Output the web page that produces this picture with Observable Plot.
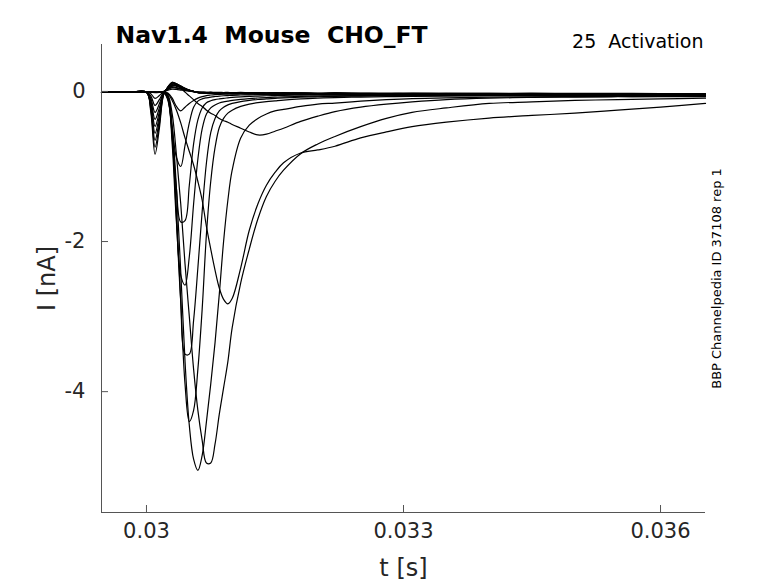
<!DOCTYPE html>
<html>
<head>
<meta charset="utf-8">
<script src="https://cdn.jsdelivr.net/npm/d3@7"></script>
<script src="https://cdn.jsdelivr.net/npm/@observablehq/plot@0.6"></script>
<style>
  body { margin: 0; background: #fff; }
  svg text { white-space: pre; }
</style>
</head>
<body>
<div id="chart"></div>
<script>
// shared time grid (s)
const time = [0.029475, 0.0298, 0.0300, 0.03005, 0.0301, 0.03015, 0.0302, 0.03025, 0.0303, 0.03035,
  0.0304, 0.03045, 0.0305, 0.03055, 0.0306, 0.03065, 0.0307, 0.03075, 0.0308, 0.03085,
  0.0309, 0.03095, 0.0310, 0.0311, 0.0312, 0.0313, 0.0314, 0.0315, 0.0316, 0.0318,
  0.0320, 0.0322, 0.0325, 0.0328, 0.0331, 0.0335, 0.0340, 0.0345, 0.0350, 0.0355,
  0.0360, 0.036525];

// current traces (nA)
const dip1 = [-0.01, -0.008, -0.01, -0.03, -0.093, -0.055, -0.005, 0.015, 0.03, 0.026, 0.018, 0.01, 0.004, -0.003,
  -0.008, -0.01, -0.012, -0.01, -0.014, -0.012, -0.015, -0.013, -0.016, -0.014, -0.017, -0.015, -0.018, -0.016,
  -0.02, -0.018, -0.021, -0.02, -0.023, -0.021, -0.025, -0.023, -0.026, -0.024, -0.027, -0.026, -0.028, -0.03];
const dip2 = [-0.012, -0.01, -0.01, -0.06, -0.186, -0.11, -0.01, 0.025, 0.05, 0.043, 0.03, 0.018, 0.008, -0.002,
  -0.01, -0.012, -0.015, -0.013, -0.016, -0.018, -0.015, -0.017, -0.019, -0.016, -0.02, -0.018, -0.021, -0.019,
  -0.016, -0.022, -0.027, -0.02, -0.025, -0.03, -0.024, -0.029, -0.026, -0.032, -0.028, -0.033, -0.031, -0.035];
const dip3 = [-0.01, -0.012, -0.008, -0.09, -0.279, -0.165, -0.015, 0.03, 0.06, 0.051, 0.036, 0.021, 0.009, -0.002,
  -0.012, -0.014, -0.013, -0.017, -0.015, -0.019, -0.017, -0.02, -0.018, -0.022, -0.02, -0.023, -0.021, -0.025,
  -0.028, -0.022, -0.03, -0.026, -0.033, -0.028, -0.031, -0.036, -0.03, -0.035, -0.033, -0.038, -0.034, -0.04];
const dip4 = [-0.008, -0.01, -0.012, -0.12, -0.372, -0.22, -0.02, 0.04, 0.08, 0.068, 0.048, 0.028, 0.012, 0.0,
  -0.01, -0.015, -0.017, -0.016, -0.019, -0.018, -0.021, -0.019, -0.022, -0.02, -0.024, -0.022, -0.026, -0.024,
  -0.021, -0.029, -0.034, -0.027, -0.032, -0.037, -0.031, -0.036, -0.034, -0.04, -0.036, -0.041, -0.039, -0.043];
const dip5 = [-0.01, -0.009, -0.011, -0.15, -0.465, -0.275, -0.025, 0.045, 0.09, 0.077, 0.054, 0.032, 0.014, 0.0,
  -0.012, -0.016, -0.018, -0.02, -0.019, -0.022, -0.02, -0.024, -0.022, -0.025, -0.023, -0.027, -0.025, -0.029,
  -0.033, -0.027, -0.035, -0.031, -0.037, -0.033, -0.039, -0.035, -0.041, -0.038, -0.043, -0.04, -0.045, -0.046];
const dip6 = [-0.012, -0.011, -0.01, -0.18, -0.558, -0.33, -0.03, 0.05, 0.1, 0.085, 0.06, 0.035, 0.015, 0.0,
  -0.014, -0.018, -0.02, -0.021, -0.023, -0.022, -0.025, -0.023, -0.026, -0.024, -0.028, -0.026, -0.03, -0.027,
  -0.032, -0.036, -0.03, -0.038, -0.034, -0.04, -0.036, -0.042, -0.039, -0.045, -0.041, -0.046, -0.044, -0.048];
const dip7 = [-0.01, -0.012, -0.01, -0.21, -0.651, -0.385, -0.035, 0.055, 0.11, 0.094, 0.066, 0.038, 0.016, 0.0,
  -0.015, -0.02, -0.022, -0.024, -0.023, -0.026, -0.025, -0.028, -0.026, -0.029, -0.027, -0.031, -0.029, -0.034,
  -0.03, -0.037, -0.033, -0.04, -0.036, -0.042, -0.038, -0.045, -0.041, -0.047, -0.043, -0.049, -0.046, -0.05];
const dip8 = [-0.011, -0.01, -0.012, -0.24, -0.744, -0.44, -0.04, 0.06, 0.12, 0.102, 0.072, 0.042, 0.018, 0.0,
  -0.016, -0.021, -0.024, -0.025, -0.027, -0.026, -0.029, -0.027, -0.031, -0.028, -0.032, -0.03, -0.035, -0.032,
  -0.038, -0.034, -0.041, -0.036, -0.043, -0.039, -0.046, -0.042, -0.048, -0.044, -0.05, -0.047, -0.052, -0.054];
const dip9 = [-0.01, -0.011, -0.01, -0.27, -0.837, -0.495, -0.045, 0.06, 0.12, 0.102, 0.072, 0.042, 0.018, 0.0,
  -0.018, -0.023, -0.026, -0.027, -0.029, -0.028, -0.031, -0.029, -0.033, -0.03, -0.034, -0.032, -0.037, -0.034,
  -0.04, -0.036, -0.043, -0.038, -0.045, -0.041, -0.048, -0.044, -0.05, -0.046, -0.052, -0.049, -0.055, -0.057];

const na1 = [-0.01, -0.01, -0.01, -0.012, -0.015, -0.012, -0.005, -0.02, -0.09, -0.2,
  -0.26, -0.21, -0.16, -0.12, -0.09, -0.07, -0.055, -0.048, -0.043, -0.04,
  -0.037, -0.035, -0.033, -0.031, -0.03, -0.028, -0.03, -0.027, -0.029, -0.026,
  -0.03, -0.027, -0.031, -0.028, -0.032, -0.029, -0.033, -0.031, -0.035, -0.032, -0.036, -0.037];
const na2 = [-0.01, -0.008, -0.012, -0.01, -0.012, -0.01, -0.01, -0.12, -0.5, -0.88,
  -1.0, -0.72, -0.42, -0.21, -0.13, -0.1, -0.085, -0.075, -0.068, -0.062,
  -0.058, -0.055, -0.052, -0.048, -0.046, -0.043, -0.042, -0.04, -0.041, -0.038,
  -0.04, -0.037, -0.039, -0.036, -0.038, -0.035, -0.037, -0.036, -0.039, -0.037, -0.04, -0.041];
const na3 = [-0.012, -0.01, -0.01, -0.012, -0.01, -0.012, -0.01, -0.1, -0.6, -1.3,
  -1.74, -1.72, -1.25, -0.7, -0.38, -0.22, -0.15, -0.125, -0.11, -0.1,
  -0.092, -0.086, -0.08, -0.072, -0.066, -0.062, -0.058, -0.055, -0.053, -0.05,
  -0.048, -0.046, -0.047, -0.044, -0.045, -0.043, -0.044, -0.042, -0.045, -0.043, -0.046, -0.047];
const na4 = [-0.01, -0.012, -0.01, -0.01, -0.012, -0.01, -0.012, -0.1, -0.7, -1.75,
  -2.45, -2.58, -2.2, -1.5, -0.9, -0.5, -0.3, -0.22, -0.18, -0.155,
  -0.14, -0.13, -0.12, -0.105, -0.095, -0.088, -0.082, -0.077, -0.073, -0.066,
  -0.062, -0.058, -0.055, -0.052, -0.05, -0.049, -0.048, -0.046, -0.048, -0.045, -0.047, -0.048];
const na5 = [-0.012, -0.01, -0.011, -0.012, -0.01, -0.012, -0.01, -0.08, -0.6, -1.7,
  -2.8, -3.5, -3.5, -3.05, -2.35, -1.6, -0.95, -0.55, -0.36, -0.26,
  -0.21, -0.18, -0.16, -0.135, -0.12, -0.108, -0.1, -0.093, -0.087, -0.078,
  -0.071, -0.066, -0.062, -0.058, -0.056, -0.054, -0.052, -0.051, -0.053, -0.05, -0.052, -0.053];
const na6 = [-0.01, -0.011, -0.012, -0.01, -0.012, -0.01, -0.011, -0.07, -0.55, -1.6,
  -2.8, -3.9, -4.4, -4.25, -3.7, -2.9, -1.9, -1.2, -0.75, -0.48,
  -0.36, -0.29, -0.25, -0.2, -0.17, -0.15, -0.135, -0.125, -0.115, -0.1,
  -0.09, -0.083, -0.075, -0.07, -0.066, -0.062, -0.06, -0.058, -0.06, -0.057, -0.059, -0.06];
const na7 = [-0.012, -0.01, -0.012, -0.012, -0.01, -0.012, -0.01, -0.06, -0.45, -1.3,
  -2.4, -3.6, -4.45, -4.9, -5.05, -4.85, -4.4, -3.9, -3.35, -2.7,
  -2.0, -1.45, -1.05, -0.62, -0.45, -0.36, -0.3, -0.26, -0.24, -0.2,
  -0.17, -0.155, -0.13, -0.11, -0.095, -0.085, -0.078, -0.073, -0.07, -0.068, -0.069, -0.07];
const na8 = [-0.01, -0.012, -0.01, -0.011, -0.012, -0.01, -0.012, -0.05, -0.3, -0.85,
  -1.5, -2.3, -3.0, -3.7, -4.25, -4.65, -4.95, -4.95, -4.7, -4.3,
  -3.95, -3.6, -3.15, -2.55, -2.1, -1.7, -1.4, -1.2, -1.05, -0.83,
  -0.7, -0.6, -0.47, -0.36, -0.28, -0.22, -0.16, -0.14, -0.12, -0.11, -0.1, -0.09];
const na9 = [-0.01, -0.01, -0.012, -0.01, -0.011, -0.012, -0.01, -0.03, -0.12, -0.25,
  -0.42, -0.62, -0.8, -0.98, -1.2, -1.45, -1.8, -2.1, -2.38, -2.62,
  -2.77, -2.83, -2.76, -2.35, -1.85, -1.5, -1.25, -1.08, -0.95, -0.82,
  -0.78, -0.73, -0.62, -0.54, -0.47, -0.41, -0.355, -0.32, -0.29, -0.25, -0.21, -0.16];
const na10 = [-0.01, -0.012, -0.01, -0.012, -0.01, -0.011, 0.0, 0.03, 0.07, 0.08,
  0.05, -0.01, -0.06, -0.11, -0.16, -0.2, -0.25, -0.29, -0.32, -0.36,
  -0.39, -0.41, -0.44, -0.49, -0.54, -0.58, -0.57, -0.53, -0.49, -0.4,
  -0.33, -0.27, -0.21, -0.17, -0.14, -0.11, -0.09, -0.08, -0.075, -0.07, -0.068, -0.065];

const traces = [dip1, dip2, dip3, dip4, dip5, dip6, dip7, dip8, dip9,
  na1, na2, na3, na4, na5, na6, na7, na8, na9, na10];

const xTicks = [0.03, 0.033, 0.036];
const yTicks = [0, -2, -4];
const xDomain = [0.029475, 0.036525];
const yDomain = [-5.61, 0.625];
const titleText = "Nav1.4  Mouse  CHO_FT";
const subtitleText = "25  Activation";
const xLabel = "t [s]";
const yLabel = "I [nA]";
const sideText = "BBP Channelpedia ID 37108 rep 1";

const rows = traces.flatMap((vals, k) =>
  vals.map((v, i) => ({t: time[i], i: v, k})).filter(d => d.t !== undefined && d.i !== undefined));

const W = 778, H = 583, mL = 101, mR = 73, mT = 44, mB = 71;
const plotW = W - mL - mR, plotH = H - mT - mB;
const ink = "#262626";
const tickLen = 7;
// inward tick length expressed in each scale's units
const tx = tickLen * (xDomain[1] - xDomain[0]) / plotW;
const ty = tickLen * (yDomain[1] - yDomain[0]) / plotH;

const chart = Plot.plot({
  width: W, height: H,
  marginLeft: mL, marginRight: mR, marginTop: mT, marginBottom: mB,
  style: {fontFamily: "DejaVu Sans", background: "white", overflow: "visible"},
  x: {domain: xDomain},
  y: {domain: yDomain},
  marks: [
    Plot.line(rows, {x: "t", y: "i", z: "k", stroke: "black", strokeWidth: 1.2, curve: "catmull-rom"}),
    Plot.ruleX([xDomain[0]], {stroke: "#555", strokeWidth: 1}),
    Plot.ruleY([yDomain[0]], {stroke: "#555", strokeWidth: 1}),
    Plot.ruleX(xTicks, {x: d => d, y1: yDomain[0], y2: yDomain[0] + ty, stroke: "#555", strokeWidth: 1}),
    Plot.ruleY(yTicks, {y: d => d, x1: xDomain[0], x2: xDomain[0] + tx, stroke: "#555", strokeWidth: 1}),
    Plot.axisX({ticks: xTicks, tickSize: 0, tickPadding: 11, tickFormat: d => String(d), fontSize: 21, fill: ink, label: null}),
    Plot.axisY({ticks: yTicks, tickSize: 0, tickPadding: 16, tickFormat: d => String(d), fontSize: 21, fill: ink, label: null}),
    Plot.text([titleText], {text: d => d, frameAnchor: "top-left", dx: 14, dy: -2, lineAnchor: "bottom", textAnchor: "start",
      fontSize: 23.5, fontWeight: "bold", fill: "black"}),
    Plot.text([subtitleText], {text: d => d, frameAnchor: "top-right", dx: -2, dy: 3, lineAnchor: "bottom", textAnchor: "end",
      fontSize: 19, fill: "black"}),
    Plot.text([xLabel], {text: d => d, frameAnchor: "bottom", dy: 63, lineAnchor: "bottom", textAnchor: "middle",
      fontSize: 24, fill: ink}),
    Plot.text([yLabel], {text: d => d, frameAnchor: "left", dx: -47, rotate: -90, lineAnchor: "bottom", textAnchor: "middle",
      fontSize: 24, fill: ink}),
    Plot.text([sideText], {text: d => d, frameAnchor: "right", dx: 15, rotate: -90, lineAnchor: "bottom", textAnchor: "middle",
      fontSize: 13, fill: "black"})
  ]
});
document.getElementById("chart").appendChild(chart);
</script>
</body>
</html>
